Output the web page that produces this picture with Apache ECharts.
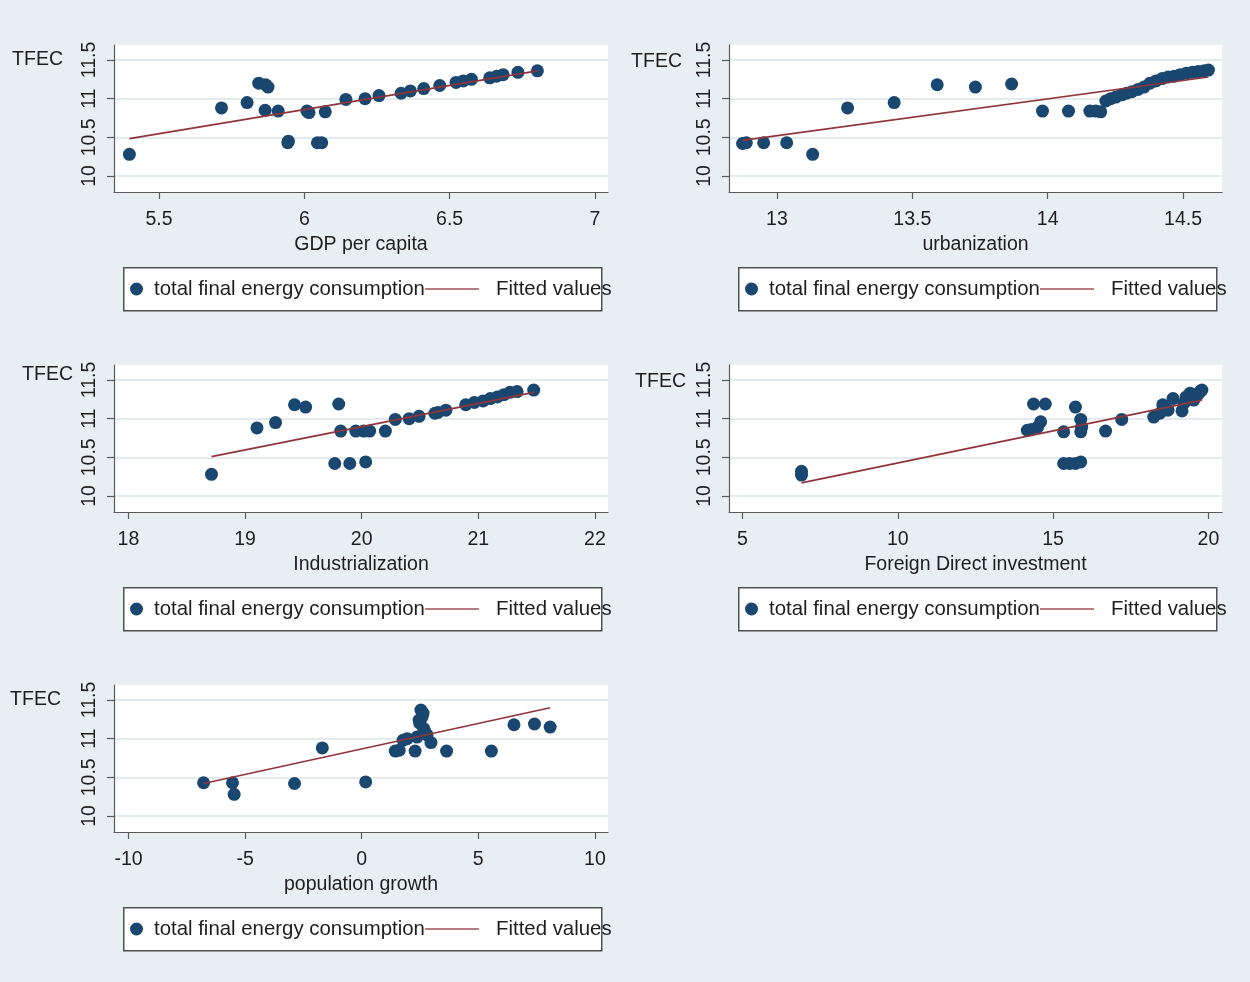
<!DOCTYPE html>
<html>
<head>
<meta charset="utf-8">
<script src="https://cdn.jsdelivr.net/npm/echarts@6/dist/echarts.min.js"></script>
<style>
html,body{margin:0;padding:0;background:#e8eff2;}
#chart{width:1250px;height:982px;}
</style>
</head>
<body>
<div id="chart"></div>
<script>
// ---------------- data ----------------
const yTicks = [10, 10.5, 11, 11.5];
const yName = 'TFEC';
const scatterName = 'total final energy consumption';
const fitName = 'Fitted values';

const xNames = ['GDP per capita', 'urbanization', 'Industrialization', 'Foreign Direct investment', 'population growth'];

const gdpTicks = [5.5, 6, 6.5, 7];
const gdpX = [5.398, 5.715, 5.803, 5.843, 5.867, 5.875, 5.865, 5.910, 5.943, 5.945, 6.009, 6.016, 6.045, 6.060, 6.072, 6.143, 6.209, 6.257, 6.333, 6.365, 6.411, 6.466, 6.522, 6.547, 6.575, 6.638, 6.662, 6.684, 6.735, 6.802];
const gdpY = [10.28, 10.88, 10.95, 11.20, 11.18, 11.15, 10.85, 10.84, 10.43, 10.45, 10.84, 10.82, 10.43, 10.43, 10.83, 10.99, 11.00, 11.04, 11.07, 11.10, 11.13, 11.17, 11.21, 11.23, 11.25, 11.27, 11.29, 11.31, 11.34, 11.36];
const gdpFitX = [5.398, 6.802];
const gdpFitY = [10.484, 11.36];

const urbTicks = [13, 13.5, 14, 14.5];
const urbX = [12.873, 12.887, 12.951, 13.036, 13.132, 13.261, 13.433, 13.592, 13.733, 13.867, 13.981, 14.077, 14.156, 14.178, 14.196, 14.215, 14.233, 14.252, 14.274, 14.292, 14.311, 14.334, 14.356, 14.378, 14.400, 14.423, 14.445, 14.467, 14.489, 14.512, 14.534, 14.556, 14.578, 14.594];
const urbY = [10.42, 10.43, 10.43, 10.43, 10.28, 10.88, 10.95, 11.18, 11.15, 11.19, 10.84, 10.84, 10.84, 10.84, 10.83, 10.97, 11.00, 11.02, 11.05, 11.07, 11.09, 11.12, 11.15, 11.20, 11.23, 11.26, 11.28, 11.29, 11.31, 11.33, 11.34, 11.35, 11.36, 11.37];
const urbFitX = [12.873, 14.594];
const urbFitY = [10.46, 11.28];

const indTicks = [18, 19, 20, 21, 22];
const indX = [18.712, 19.102, 19.261, 19.424, 19.519, 19.803, 19.769, 19.820, 19.898, 19.949, 20.034, 20.017, 20.068, 20.203, 20.288, 20.407, 20.492, 20.627, 20.654, 20.722, 20.892, 20.966, 21.041, 21.102, 21.163, 21.220, 21.271, 21.332, 21.475];
const indY = [10.28, 10.88, 10.95, 11.18, 11.15, 11.19, 10.42, 10.84, 10.42, 10.84, 10.44, 10.84, 10.84, 10.84, 10.99, 11.00, 11.03, 11.07, 11.08, 11.11, 11.18, 11.21, 11.23, 11.26, 11.28, 11.31, 11.34, 11.35, 11.37];
const indFitX = [18.712, 21.475];
const indFitY = [10.51, 11.34];

const fdiTicks = [5, 10, 15, 20];
const fdiX = [6.90, 6.90, 14.37, 14.75, 14.17, 14.30, 14.50, 14.60, 15.34, 15.34, 15.53, 15.72, 15.89, 15.72, 15.89, 15.89, 15.92, 16.69, 17.21, 18.24, 18.44, 18.53, 18.70, 18.86, 19.15, 19.21, 19.41, 19.53, 19.73, 19.79, 19.28, 19.66];
const fdiY = [10.32, 10.27, 11.19, 11.19, 10.85, 10.86, 10.89, 10.96, 10.83, 10.42, 10.42, 10.42, 10.44, 11.15, 10.99, 10.83, 10.89, 10.84, 10.99, 11.02, 11.07, 11.18, 11.11, 11.26, 11.10, 11.20, 11.33, 11.24, 11.35, 11.37, 11.28, 11.31];
const fdiFitX = [6.90, 19.79];
const fdiFitY = [10.17, 11.24];

const popTicks = [-10, -5, 0, 5, 10];
const popX = [-6.78, -5.54, -5.47, -2.88, -1.69, 0.17, 1.44, 1.61, 1.78, 1.95, 2.29, 2.37, 2.46, 2.54, 2.63, 2.59, 2.49, 2.66, 2.71, 2.80, 2.97, 3.64, 5.56, 6.53, 7.41, 8.08];
const popY = [10.43, 10.43, 10.28, 10.42, 10.88, 10.44, 10.84, 10.85, 10.98, 11.00, 10.84, 11.02, 11.24, 11.37, 11.33, 11.28, 11.20, 11.13, 11.09, 11.05, 10.95, 10.84, 10.84, 11.18, 11.19, 11.15];
const popFitX = [-6.78, 8.08];
const popFitY = [10.42, 11.40];

// ---------------- layout ----------------
const panels = [
  {x: gdpX, y: gdpY, fx: gdpFitX, fy: gdpFitY, ticks: gdpTicks, min: 5.345, max: 7.045, left: 114, top: 45, width: 494, nameRight: 63, nameY: 60},
  {x: urbX, y: urbY, fx: urbFitX, fy: urbFitY, ticks: urbTicks, min: 12.823, max: 14.644, left: 729, top: 45, width: 493, nameRight: 682, nameY: 62},
  {x: indX, y: indY, fx: indFitX, fy: indFitY, ticks: indTicks, min: 17.876, max: 22.112, left: 114, top: 365, width: 494, nameRight: 73, nameY: 375},
  {x: fdiX, y: fdiY, fx: fdiFitX, fy: fdiFitY, ticks: fdiTicks, min: 4.565, max: 20.438, left: 729, top: 365, width: 493, nameRight: 686, nameY: 382},
  {x: popX, y: popY, fx: popFitX, fy: popFitY, ticks: popTicks, min: -10.622, max: 10.562, left: 114, top: 685, width: 494, nameRight: 61, nameY: 700}
];
const plotH = 147;
const yMin = 9.793, yMax = 11.694;
const FONT = "'Liberation Sans', Arial, sans-serif";
const TXT = '#1e1e1e';
const AX = '#5a5a5a';

const zip = (a, b) => a.map((v, i) => [v, b[i]]);

const grid = [], xAxis = [], yAxis = [], series = [], legend = [], graphic = [];
panels.forEach((p, i) => {
  grid.push({left: p.left, top: p.top, width: p.width, height: plotH, show: true, backgroundColor: '#ffffff', borderWidth: 0, containLabel: false});
  xAxis.push({
    type: 'value', gridIndex: i, min: p.min, max: p.max,
    name: xNames[i], nameLocation: 'middle', nameGap: 43,
    nameTextStyle: {fontFamily: FONT, fontSize: 19.5, color: TXT},
    axisLine: {show: true, onZero: false, lineStyle: {color: AX, width: 1.2}},
    axisTick: {show: true, length: 7, customValues: p.ticks, lineStyle: {color: AX, width: 1.2}},
    axisLabel: {customValues: p.ticks, margin: 18, fontFamily: FONT, fontSize: 19.5, color: TXT, formatter: v => String(v)},
    splitLine: {show: false}
  });
  yAxis.push({
    type: 'value', gridIndex: i, min: yMin, max: yMax,
    name: yName, nameLocation: 'end', nameGap: -(p.nameY - p.top),
    nameTextStyle: {fontFamily: FONT, fontSize: 19.5, color: TXT, align: 'right', verticalAlign: 'middle', padding: [0, p.left - p.nameRight, 0, 0]},
    axisLine: {show: true, onZero: false, lineStyle: {color: AX, width: 1.2}},
    axisTick: {show: true, length: 7, customValues: yTicks, lineStyle: {color: AX, width: 1.2}},
    axisLabel: {customValues: yTicks, rotate: 90, margin: 14, fontFamily: FONT, fontSize: 19.5, color: TXT, formatter: v => String(v)},
    splitLine: {show: true, customValues: yTicks, lineStyle: {color: '#e3ebef', width: 2}}
  });
  series.push({
    name: scatterName, type: 'scatter', xAxisIndex: i, yAxisIndex: i,
    symbol: 'circle', symbolSize: 13, itemStyle: {color: '#1a476f', opacity: 1},
    data: zip(p.x, p.y), z: 3
  });
  series.push({
    name: fitName, type: 'line', xAxisIndex: i, yAxisIndex: i,
    showSymbol: false, symbol: 'none', color: '#90353b',
    lineStyle: {color: '#90353b', width: 1.7}, itemStyle: {color: '#90353b'},
    data: zip(p.fx, p.fy), z: 4
  });
  const bx = p.left + 9, by = p.top + 222;
  graphic.push({type: 'rect', left: bx, top: by, z: 1, shape: {width: 478, height: 43}, style: {fill: '#ffffff', stroke: '#505050', lineWidth: 1.5}});
  legend.push({
    left: bx + 7, top: by + 12, padding: 0, z: 10, selectedMode: false,
    itemWidth: 25, itemHeight: 13,
    data: [{name: scatterName, icon: 'circle', itemStyle: {color: '#1a476f', opacity: 1}}],
    textStyle: {fontFamily: FONT, fontSize: 20.4, color: TXT, lineHeight: 20}
  });
  legend.push({
    left: bx + 302, top: by + 12, padding: 0, z: 11, selectedMode: false,
    itemWidth: 54, itemHeight: 2,
    data: [{name: fitName, icon: 'rect', itemStyle: {color: '#b97a80'}}],
    textStyle: {fontFamily: FONT, fontSize: 20.4, color: TXT, lineHeight: 20, padding: [0, 0, 0, 12]}
  });
});

const chart = echarts.init(document.getElementById('chart'), null, {renderer: 'canvas'});
chart.setOption({
  backgroundColor: '#e8eff2',
  animation: false,
  grid, xAxis, yAxis, series, legend, graphic
});
</script>
</body>
</html>
